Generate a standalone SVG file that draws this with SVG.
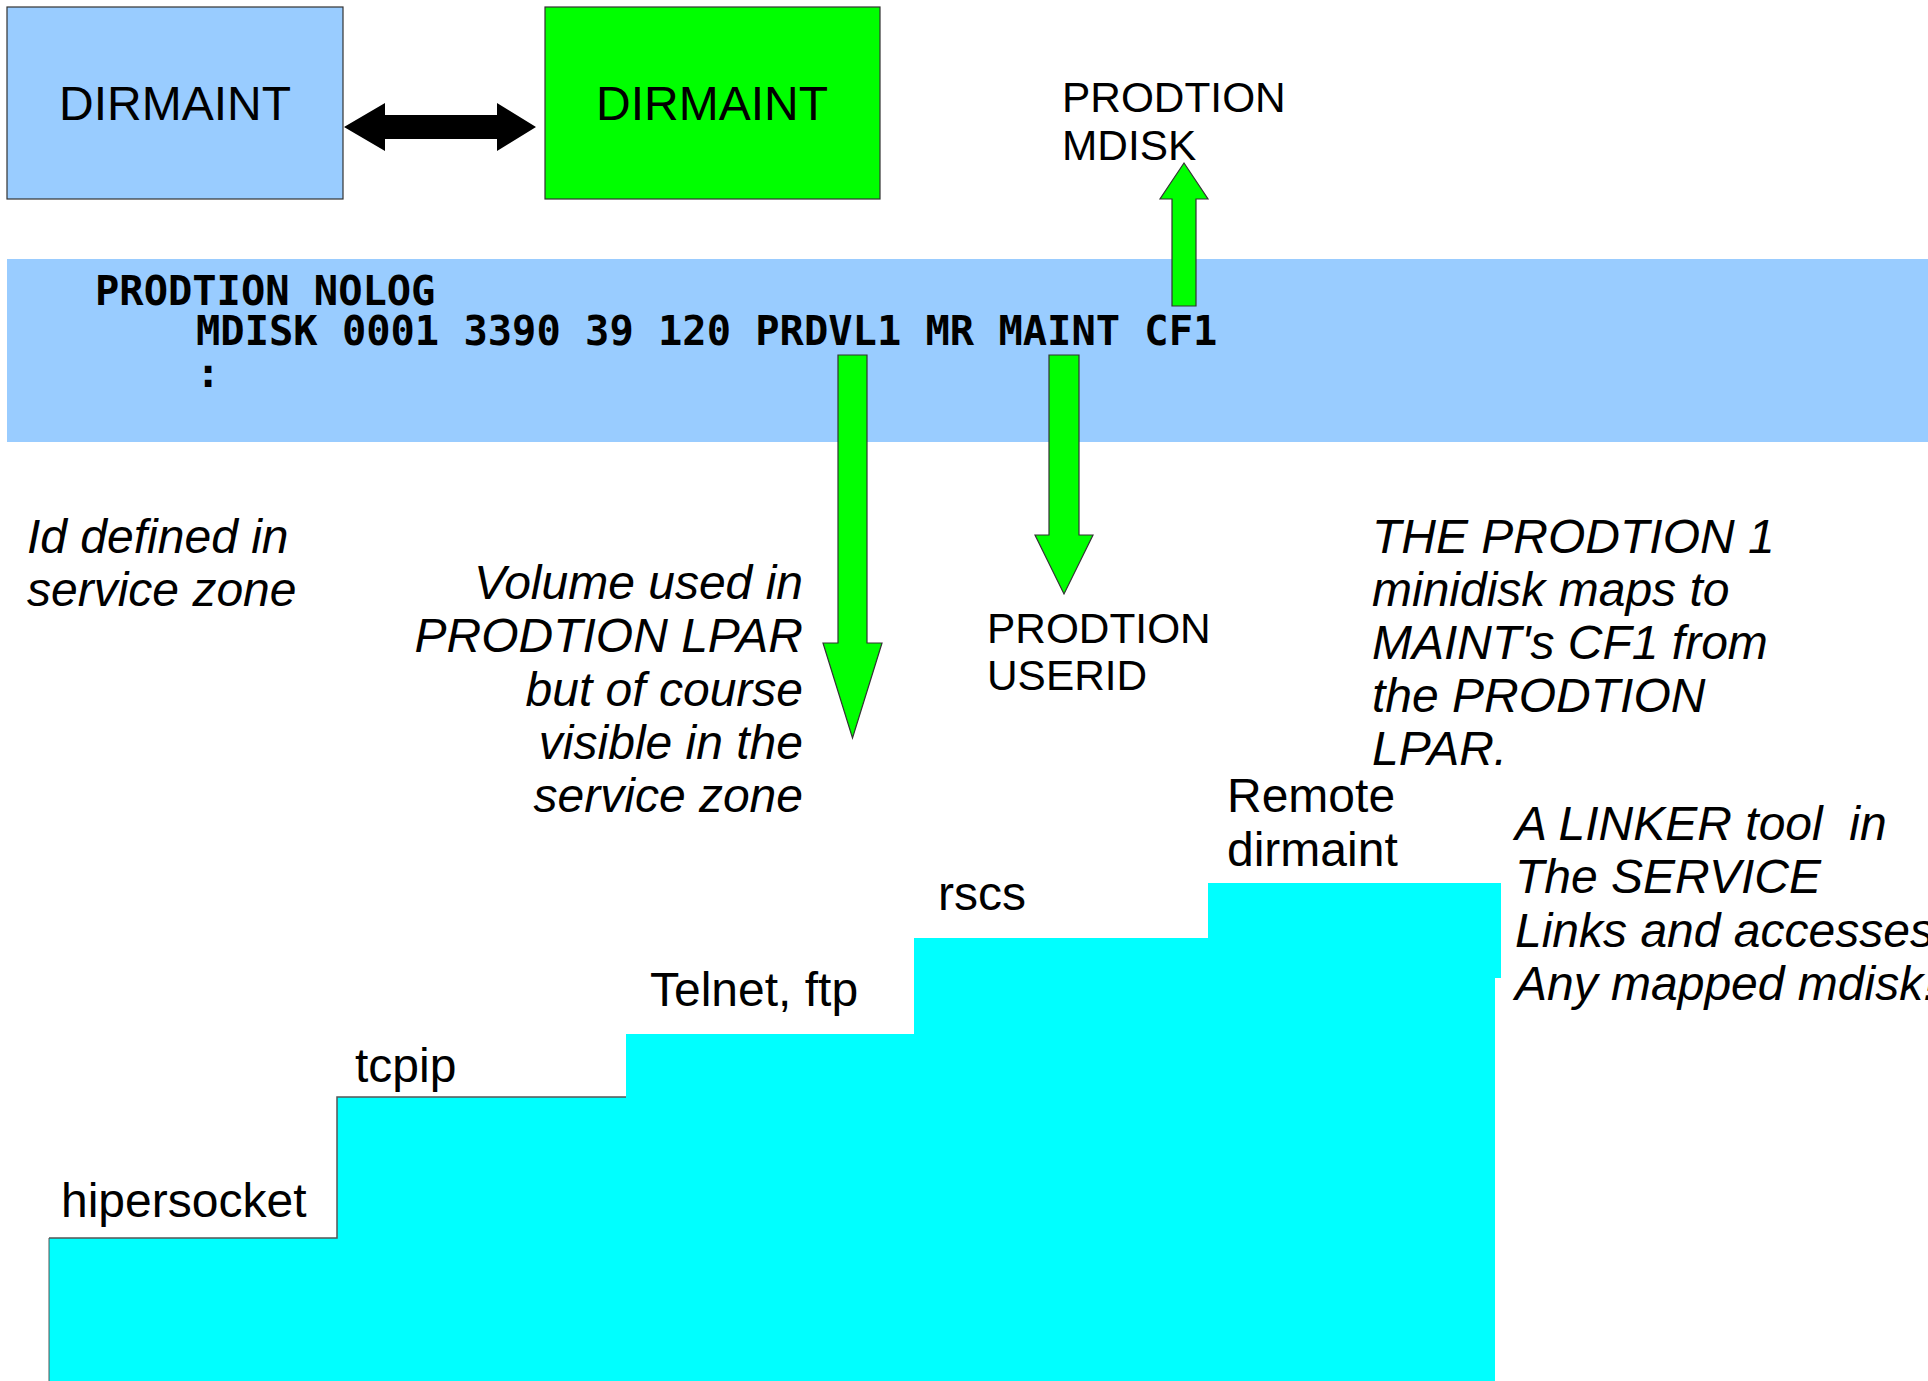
<svg xmlns="http://www.w3.org/2000/svg" width="1928" height="1381" viewBox="0 0 1928 1381">
<style>
.sans{font-family:"Liberation Sans",Arial,sans-serif;fill:#000}
.big{font-size:48px}
.lbl{font-size:42.4px}
.it{font-style:italic;font-size:48px}
.code{font-family:"DejaVu Sans Mono","Liberation Mono",monospace;font-weight:bold;font-size:40.4px;fill:#000}
.garrow{fill:#00ff00;stroke:#333;stroke-width:1.2}
</style>
<rect width="1928" height="1381" fill="#fff"/>
<g id="directory">
<rect x="7" y="259" width="1921" height="183" fill="#99ccff"/>
<text class="code" x="95" y="305" xml:space="preserve">PRODTION NOLOG</text>
<text class="code" x="196" y="345" xml:space="preserve">MDISK 0001 3390 39 120 PRDVL1 MR MAINT CF1</text>
<text class="code" x="196" y="387">:</text>
</g>
<g id="stairs">
<polygon points="49,1238 337,1238 337,1097 626,1097 626,1034 914,1034 914,938 1208,938 1208,883 1501,883 1501,978 1495,978 1495,1381 49,1381" fill="#00ffff"/>
<polyline points="49,1238 337,1238 337,1097 626,1097" fill="none" stroke="#555" stroke-width="1.5"/>
<line x1="49" y1="1238" x2="49" y2="1381" stroke="#555" stroke-width="1"/>
</g>
<g id="dirmaint-service">
<rect x="7" y="7" width="336" height="192" fill="#99ccff" stroke="#333" stroke-width="1.2"/>
<text class="sans big" x="175" y="120" text-anchor="middle">DIRMAINT</text>
</g>
<g id="dirmaint-prod">
<rect x="545" y="7" width="335" height="192" fill="#00ff00" stroke="#333" stroke-width="1.2"/>
<text class="sans big" x="712" y="120" text-anchor="middle">DIRMAINT</text>
</g>
<g id="label-mdisk">
<text class="sans lbl" x="1062" y="112">PRODTION</text>
<text class="sans lbl" x="1062" y="160">MDISK</text>
</g>
<g id="label-userid">
<text class="sans lbl" x="987" y="643">PRODTION</text>
<text class="sans lbl" x="987" y="690">USERID</text>
</g>
<g id="note-id">
<text class="sans it" x="27" y="553">Id defined in</text>
<text class="sans it" x="27" y="606">service zone</text>
</g>
<g id="note-volume" text-anchor="end">
<text class="sans it" x="803" y="599">Volume used in</text>
<text class="sans it" x="803" y="652">PRODTION LPAR</text>
<text class="sans it" x="803" y="706">but of course</text>
<text class="sans it" x="803" y="759">visible in the</text>
<text class="sans it" x="803" y="812">service zone</text>
</g>
<g id="note-minidisk">
<text class="sans it" x="1372" y="553">THE PRODTION 1</text>
<text class="sans it" x="1372" y="606">minidisk maps to</text>
<text class="sans it" x="1372" y="659">MAINT's CF1 from</text>
<text class="sans it" x="1372" y="712">the PRODTION</text>
<text class="sans it" x="1372" y="765">LPAR.</text>
</g>
<g id="note-linker">
<text class="sans it" x="1515" y="840" xml:space="preserve">A LINKER tool  in</text>
<text class="sans it" x="1515" y="893">The SERVICE</text>
<text class="sans it" x="1515" y="947">Links and accesses</text>
<text class="sans it" x="1515" y="1000">Any mapped mdisk!</text>
</g>
<g id="step-labels">
<text class="sans big" x="61" y="1217">hipersocket</text>
<text class="sans big" x="355" y="1082">tcpip</text>
<text class="sans big" x="650" y="1006">Telnet, ftp</text>
<text class="sans big" x="938" y="910">rscs</text>
<text class="sans big" x="1227" y="812">Remote</text>
<text class="sans big" x="1227" y="866">dirmaint</text>
</g>
<g id="connectors">
<polygon points="344,127 385,103 385,115 497,115 497,103 536,127 497,151 497,139 385,139 385,151" fill="#000"/>
<polygon class="garrow" points="1172,306 1196,306 1196,199 1208,199 1184,163 1160,199 1172,199"/>
<polygon class="garrow" points="838,355 867,355 867,643 882,643 852.5,738 823,643 838,643"/>
<polygon class="garrow" points="1049,355 1079,355 1079,535 1093,535 1064,594 1035,535 1049,535"/>
</g>
</svg>
